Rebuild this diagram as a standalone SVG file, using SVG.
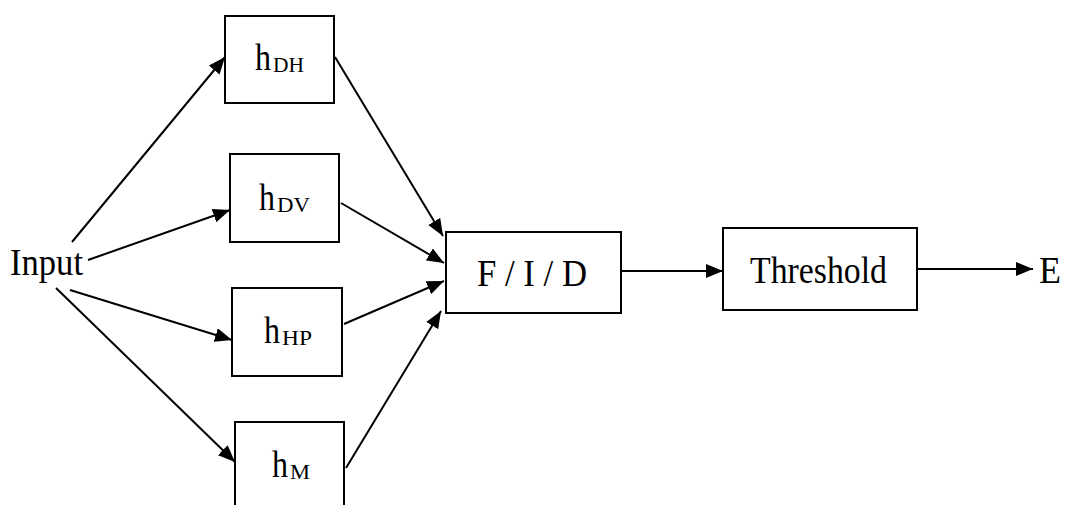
<svg xmlns="http://www.w3.org/2000/svg" width="1066" height="505" viewBox="0 0 1066 505">
<defs>
<style>
.box{fill:#fff;stroke:#000;stroke-width:2}
.lbl{font-family:"Liberation Serif","Times New Roman",serif;fill:#000}
.big{font-size:38px}
.sub{font-size:21px}
.edge{stroke:#000;stroke-width:2;fill:none;marker-end:url(#ah)}
</style>
<marker id="ah" markerUnits="userSpaceOnUse" markerWidth="17" markerHeight="14" refX="17" refY="7" orient="auto">
<path d="M0,0 L17,7 L0,14 z" fill="#000"/>
</marker>
</defs>
<rect width="1066" height="505" fill="#fff"/>
<g id="connectors">
<line class="edge" x1="72" y1="242" x2="225" y2="57"/>
<line class="edge" x1="88" y1="260" x2="230" y2="210"/>
<line class="edge" x1="70" y1="290" x2="232" y2="340"/>
<line class="edge" x1="56" y1="288" x2="235" y2="462"/>
<line class="edge" x1="335" y1="57" x2="443" y2="236"/>
<line class="edge" x1="341" y1="203" x2="444" y2="263"/>
<line class="edge" x1="344" y1="324" x2="444" y2="281"/>
<line class="edge" x1="346" y1="468" x2="441" y2="311"/>
<line class="edge" x1="621" y1="271" x2="723" y2="271"/>
<line class="edge" x1="917" y1="269" x2="1033" y2="269"/>
</g>
<g id="input"><text class="lbl big" x="10" y="275" textLength="73" lengthAdjust="spacingAndGlyphs">Input</text></g>
<g id="hDH"><rect class="box" x="225" y="16" width="109" height="87"/><text class="lbl big" x="255" y="70" textLength="16" lengthAdjust="spacingAndGlyphs">h</text><text class="lbl sub" x="273" y="72" textLength="31" lengthAdjust="spacingAndGlyphs">DH</text></g>
<g id="hDV"><rect class="box" x="230" y="154" width="109" height="88"/><text class="lbl big" x="259" y="210" textLength="16" lengthAdjust="spacingAndGlyphs">h</text><text class="lbl sub" x="277" y="212" textLength="33" lengthAdjust="spacingAndGlyphs">DV</text></g>
<g id="hHP"><rect class="box" x="232" y="288" width="110" height="88"/><text class="lbl big" x="264" y="343" textLength="16" lengthAdjust="spacingAndGlyphs">h</text><text class="lbl sub" x="282" y="345" textLength="30" lengthAdjust="spacingAndGlyphs">HP</text></g>
<g id="hM"><rect class="box" x="235" y="422" width="109" height="95"/><text class="lbl big" x="272" y="477" textLength="16" lengthAdjust="spacingAndGlyphs">h</text><text class="lbl sub" x="290" y="479" textLength="20" lengthAdjust="spacingAndGlyphs">M</text></g>
<g id="fid"><rect class="box" x="446" y="232" width="175" height="81"/><text class="lbl big" x="477" y="286" textLength="110" lengthAdjust="spacingAndGlyphs">F / I / D</text></g>
<g id="threshold"><rect class="box" x="723" y="228" width="194" height="82"/><text class="lbl big" x="750" y="283" textLength="137" lengthAdjust="spacingAndGlyphs">Threshold</text></g>
<g id="E"><text class="lbl big" x="1039" y="283" textLength="22" lengthAdjust="spacingAndGlyphs">E</text></g>
</svg>
